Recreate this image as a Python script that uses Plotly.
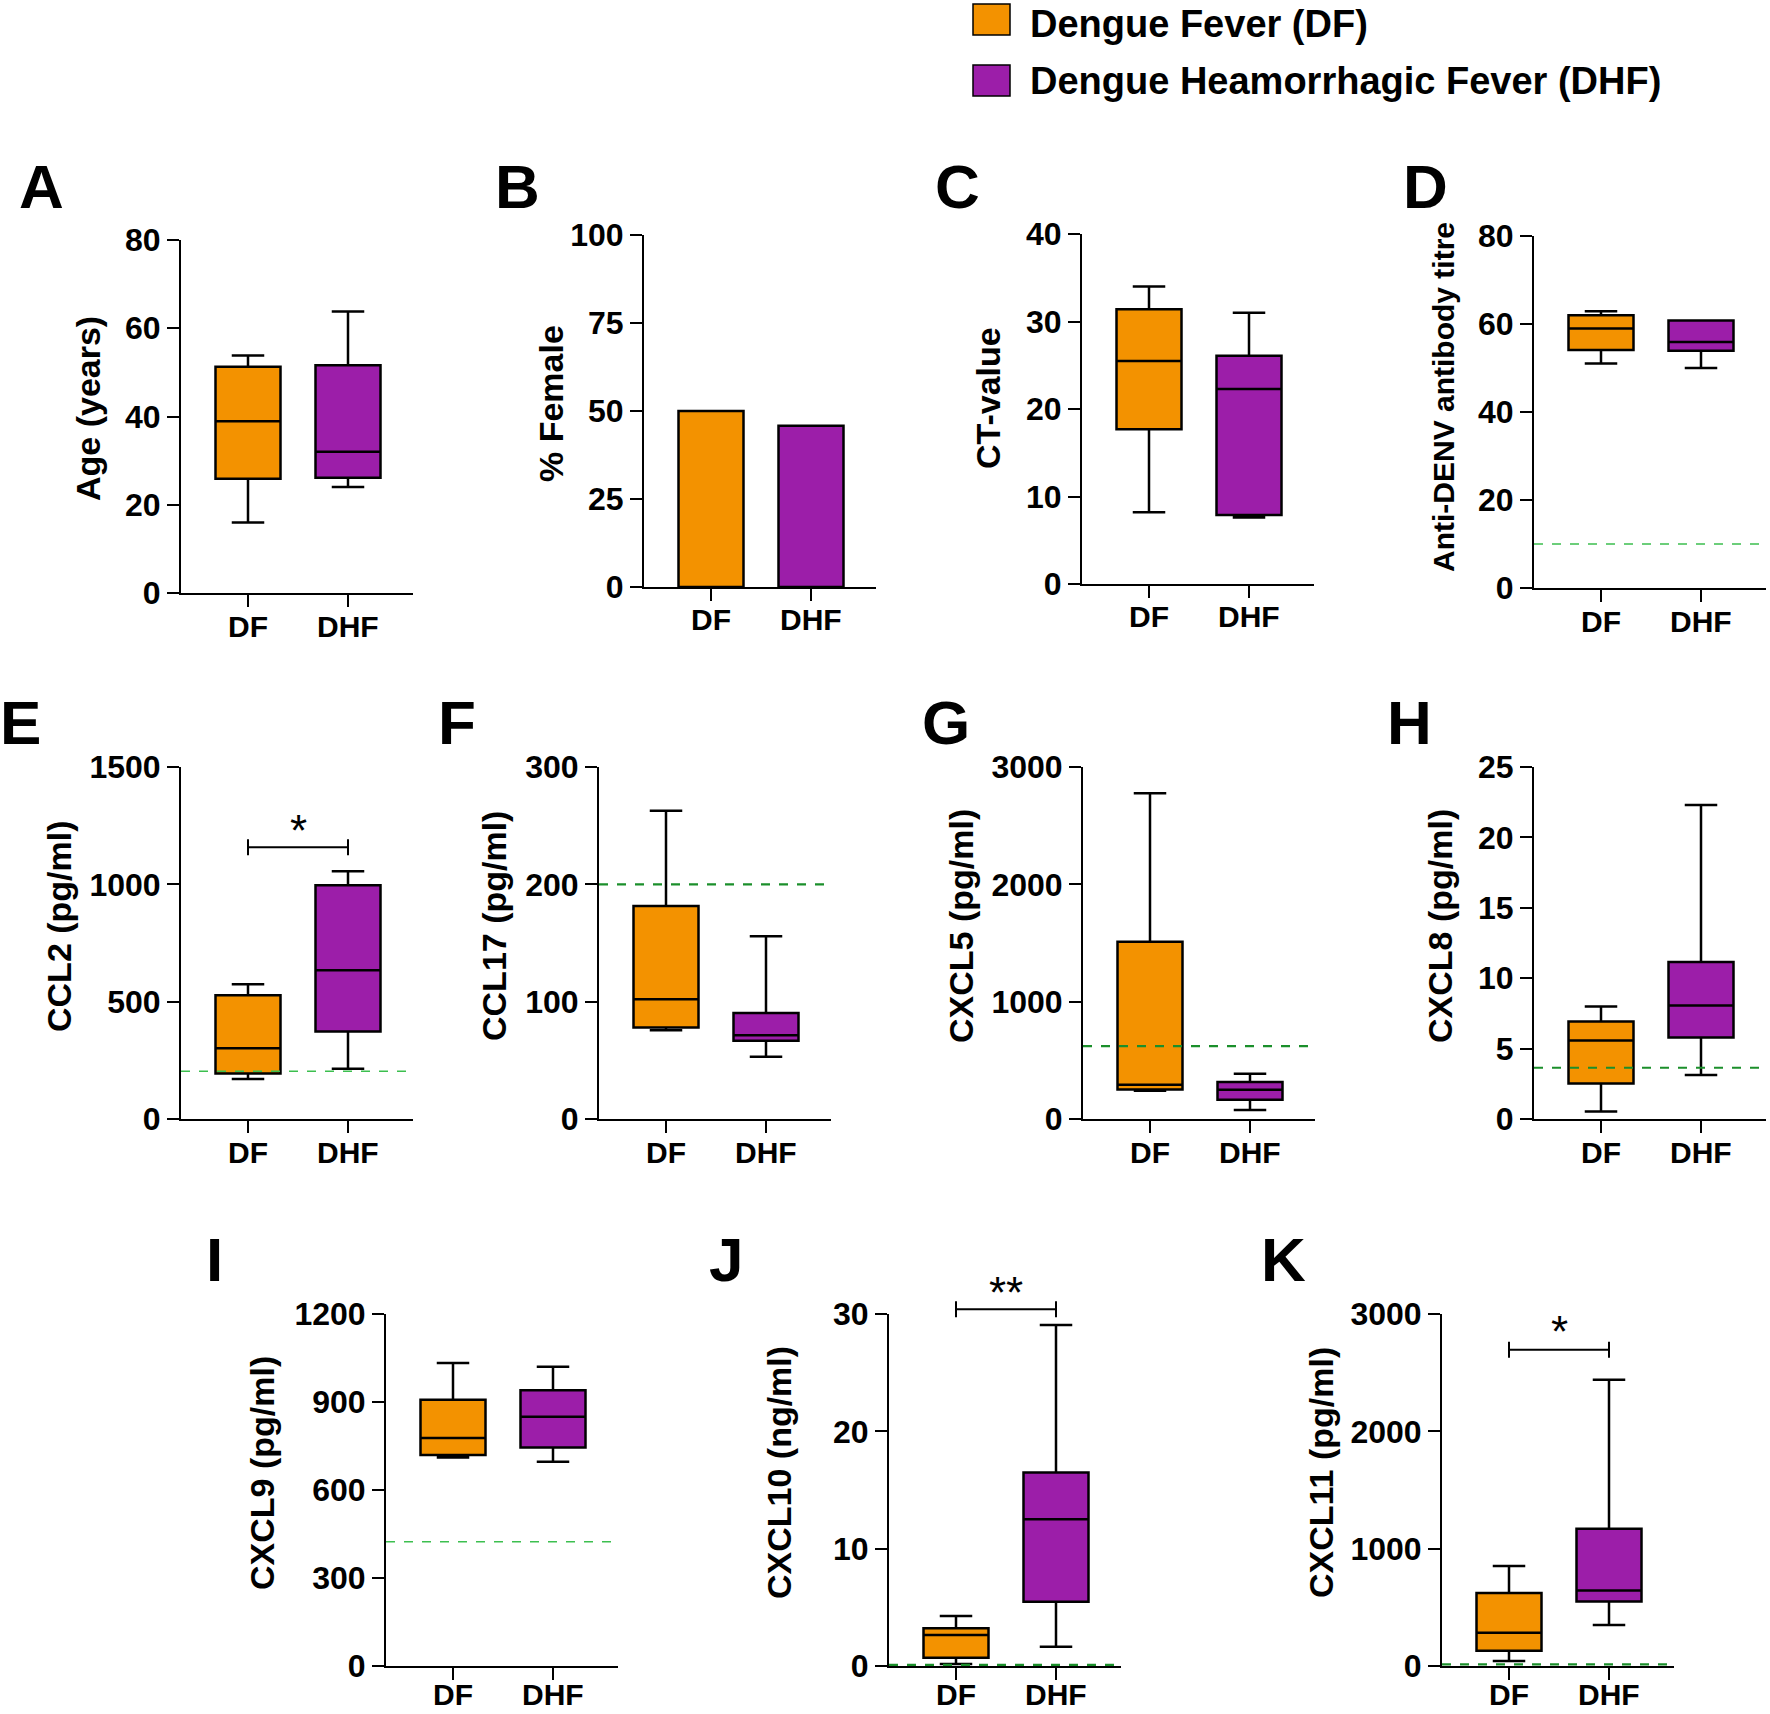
import plotly.graph_objects as go

W, H = 1770, 1714
ORANGE = '#F39200'
PURPLE = '#9C1EA9'
GREEN_DARK = '#1B8F2B'
GREEN_LIGHT = '#3CBF4F'

groups = ['DF', 'DHF']
legend_labels = ['Dengue Fever (DF)', 'Dengue Heamorrhagic Fever (DHF)']

# box stats: [lower whisker, Q1, median, Q3, upper whisker]
age_df = [16.0, 25.9, 38.9, 51.3, 53.8]
age_dhf = [24.0, 26.1, 32.0, 51.6, 63.8]
female_pct = [50.0, 45.8]
ct_df = [8.2, 17.7, 25.5, 31.4, 34.0]
ct_dhf = [7.6, 7.9, 22.3, 26.1, 31.0]
ab_df = [51.0, 54.1, 59.0, 62.0, 62.9]
ab_dhf = [50.0, 53.9, 55.9, 60.8, 60.8]
ccl2_df = [170, 194, 302, 527, 574]
ccl2_dhf = [214, 373, 634, 996, 1056]
ccl17_df = [75.7, 78, 102, 181.5, 262.8]
ccl17_dhf = [53, 66.6, 71.4, 90.4, 155.7]
cxcl5_df = [241, 252, 292, 1511, 2776]
cxcl5_dhf = [77, 164, 250, 315, 386]
cxcl8_df = [0.54, 2.53, 5.58, 6.92, 7.99]
cxcl8_dhf = [3.12, 5.79, 8.06, 11.15, 22.3]
cxcl9_df = [711, 719, 777, 908, 1033]
cxcl9_dhf = [696, 745, 850, 940, 1020]
cxcl10_df = [0.17, 0.71, 2.64, 3.21, 4.26]
cxcl10_dhf = [1.65, 5.48, 12.5, 16.5, 29.06]
cxcl11_df = [43, 131, 284, 623, 853]
cxcl11_dhf = [350, 549, 643, 1169, 2440]

# detection limits (green dashed lines)
lod_values = {'D': 10, 'E': 203, 'F': 200, 'G': 621, 'H': 3.64, 'I': 424, 'J': 0.1, 'K': 14}
lod_thin = {'D', 'E', 'I'}

# significance brackets: panel -> (bracket y, star y, label)
signif = {'E': (1158, 1229, '*'), 'J': (30.4, 31.8, '**'), 'K': (2696, 2849, '*')}

y_ticks = {
    'A': [0, 20, 40, 60, 80], 'B': [0, 25, 50, 75, 100], 'C': [0, 10, 20, 30, 40],
    'D': [0, 20, 40, 60, 80], 'E': [0, 500, 1000, 1500], 'F': [0, 100, 200, 300],
    'G': [0, 1000, 2000, 3000], 'H': [0, 5, 10, 15, 20, 25], 'I': [0, 300, 600, 900, 1200],
    'J': [0, 10, 20, 30], 'K': [0, 1000, 2000, 3000],
}
y_titles = {
    'A': 'Age (years)', 'B': '% Female', 'C': 'CT-value', 'D': 'Anti-DENV antibody titre',
    'E': 'CCL2 (pg/ml)', 'F': 'CCL17 (pg/ml)', 'G': 'CXCL5 (pg/ml)', 'H': 'CXCL8 (pg/ml)',
    'I': 'CXCL9 (pg/ml)', 'J': 'CXCL10 (ng/ml)', 'K': 'CXCL11 (pg/ml)',
}
box_data = {
    'A': (age_df, age_dhf), 'C': (ct_df, ct_dhf), 'D': (ab_df, ab_dhf),
    'E': (ccl2_df, ccl2_dhf), 'F': (ccl17_df, ccl17_dhf), 'G': (cxcl5_df, cxcl5_dhf),
    'H': (cxcl8_df, cxcl8_dhf), 'I': (cxcl9_df, cxcl9_dhf), 'J': (cxcl10_df, cxcl10_dhf),
    'K': (cxcl11_df, cxcl11_dhf),
}
letters = ['A', 'B', 'C', 'D', 'E', 'F', 'G', 'H', 'I', 'J', 'K']

# ---- layout geometry (pixels) ----
XR = [-0.67, 1.65]
UNIT = 100  # px per category step
# DF tick x, plot top, plot bottom
geom = {
    'A': (248, 240, 593), 'B': (711, 235, 587), 'C': (1149, 234, 584), 'D': (1601, 236, 588),
    'E': (248, 767, 1119), 'F': (666, 767, 1119), 'G': (1150, 767, 1119), 'H': (1601, 767, 1119),
    'I': (453, 1314, 1666), 'J': (956, 1314, 1666), 'K': (1509, 1314, 1666),
}
letter_pos = {
    'A': (41, 186), 'B': (517, 186), 'C': (957, 186), 'D': (1425, 186),
    'E': (20, 722), 'F': (457, 722), 'G': (946, 722), 'H': (1409, 722),
    'I': (214, 1259), 'J': (726, 1259), 'K': (1283, 1259),
}
title_pos = {
    'A': (88, 409), 'B': (551, 404), 'C': (988, 398), 'D': (1443, 397),
    'E': (59, 926), 'F': (494, 926), 'G': (961, 926), 'H': (1440, 926),
    'I': (262, 1473), 'J': (779, 1473), 'K': (1321, 1473),
}
title_size = {'D': 30}
XLABEL_GAP = 33  # px below x-axis line to centre of DF/DHF labels
XLABEL_GAP_BOTTOM = 28  # bottom row: keep labels inside the page

def px_x(x):
    return x / W

def px_y(y):
    return 1 - y / H

FONT = 'Liberation Sans, Arial'

fig = go.Figure()
layout = dict(width=W, height=H, margin=dict(l=0, r=0, t=0, b=0, autoexpand=False),
              paper_bgcolor='white', plot_bgcolor='white', showlegend=False,
              template='none')
shapes = []
annotations = []
panel_dom = {}

for i, L in enumerate(letters):
    n = '' if i == 0 else str(i + 1)
    xa, ya = 'x' + n, 'y' + n
    dfx, top, bot = geom[L]
    x0 = dfx + XR[0] * UNIT
    x1 = dfx + XR[1] * UNIT
    xdom = [px_x(x0), px_x(x1)]
    ydom = [px_y(bot), px_y(top)]
    ymax = y_ticks[L][-1]
    panel_dom[L] = (xdom, ydom, ymax)
    layout['xaxis' + n] = dict(
        domain=xdom, range=XR, anchor=ya, tickvals=[0, 1], showticklabels=False,
        showline=True, linecolor='black', linewidth=2, ticks='outside', ticklen=12,
        tickwidth=2, tickcolor='black', showgrid=False, zeroline=False, fixedrange=True,
        automargin=False)
    layout['yaxis' + n] = dict(
        domain=ydom, range=[0, ymax], anchor=xa, tickvals=y_ticks[L],
        showline=True, linecolor='black', linewidth=2, ticks='outside', ticklen=12,
        tickwidth=2, tickcolor='black', showgrid=False, zeroline=False, fixedrange=True,
        automargin=False,
        tickfont=dict(family=FONT, size=32, color='black', weight='bold'))

    # category labels under the axis (placed at the axis' tick positions)
    gap = XLABEL_GAP_BOTTOM if L in ('I', 'J', 'K') else XLABEL_GAP
    for k, g in enumerate(groups):
        gx = xdom[0] + (k - XR[0]) / (XR[1] - XR[0]) * (xdom[1] - xdom[0])
        annotations.append(dict(
            text=g, x=gx, y=px_y(bot + gap), xref='paper', yref='paper',
            showarrow=False, xanchor='center', yanchor='middle',
            font=dict(family=FONT, size=30, color='black', weight='bold')))

    if L == 'B':
        fig.add_trace(go.Bar(
            x=[0, 1], y=female_pct, width=0.65, xaxis=xa, yaxis=ya,
            marker=dict(color=[ORANGE, PURPLE], line=dict(color='black', width=2.5)),
            hoverinfo='skip'))
    else:
        for k, (stats, col) in enumerate(zip(box_data[L], [ORANGE, PURPLE])):
            fig.add_trace(go.Box(
                x=[k], lowerfence=[stats[0]], q1=[stats[1]], median=[stats[2]],
                q3=[stats[3]], upperfence=[stats[4]], width=0.65, whiskerwidth=0.5,
                fillcolor=col, line=dict(color='black', width=2.5), boxpoints=False,
                xaxis=xa, yaxis=ya, hoverinfo='skip'))

    if L in lod_values:
        thin = L in lod_thin
        shapes.append(dict(
            type='line', xref=xa + ' domain', yref=ya, x0=0, x1=1,
            y0=lod_values[L], y1=lod_values[L], layer='above',
            line=dict(color=GREEN_LIGHT if thin else GREEN_DARK,
                      width=1.5 if thin else 2.2, dash='dash')))

    # panel letter
    lx, ly = letter_pos[L]
    annotations.append(dict(
        text=L, x=px_x(lx), y=px_y(ly), xref='paper', yref='paper', showarrow=False,
        xanchor='center', yanchor='middle',
        font=dict(family=FONT, size=62, color='black', weight='bold')))
    # y-axis title
    tx, ty = title_pos[L]
    annotations.append(dict(
        text=y_titles[L], x=px_x(tx), y=px_y(ty), xref='paper', yref='paper',
        showarrow=False, textangle=-90, xanchor='center', yanchor='middle',
        font=dict(family=FONT, size=title_size.get(L, 34), color='black', weight='bold')))

# significance brackets
def data_to_paper(L, xv, yv):
    xdom, ydom, ymax = panel_dom[L]
    px = xdom[0] + (xv - XR[0]) / (XR[1] - XR[0]) * (xdom[1] - xdom[0])
    py = ydom[0] + yv / ymax * (ydom[1] - ydom[0])
    return px, py

tick_half = 8 / H
for L, (by, sy, lab) in signif.items():
    xa0, yb = data_to_paper(L, 0, by)
    xa1, _ = data_to_paper(L, 1, by)
    lw = dict(color='black', width=2)
    shapes.append(dict(type='line', xref='paper', yref='paper', x0=xa0, x1=xa1, y0=yb, y1=yb, line=lw))
    for xx in (xa0, xa1):
        shapes.append(dict(type='line', xref='paper', yref='paper', x0=xx, x1=xx,
                           y0=yb - tick_half, y1=yb + tick_half, line=lw))
    xs, ys = data_to_paper(L, 0.5, sy)
    annotations.append(dict(
        text=lab, x=xs, y=ys, xref='paper', yref='paper', showarrow=False,
        xanchor='center', yanchor='middle',
        font=dict(family=FONT, size=44, color='black')))

# legend (squares in px; text centre in px)
leg_sq = [(973, 4, 1010, 35), (973, 65, 1010, 96)]
leg_text_y = [24, 81]
for (a, b, c, d), ty, col, lab in zip(leg_sq, leg_text_y, [ORANGE, PURPLE], legend_labels):
    shapes.append(dict(type='rect', xref='paper', yref='paper',
                       x0=px_x(a), x1=px_x(c), y0=px_y(d), y1=px_y(b),
                       fillcolor=col, line=dict(color='black', width=1.5)))
    annotations.append(dict(
        text=lab, x=px_x(1028), y=px_y(ty), xref='paper', yref='paper',
        showarrow=False, xanchor='left', yanchor='middle',
        font=dict(family=FONT, size=38, color='black', weight='bold')))

layout['shapes'] = shapes
layout['annotations'] = annotations
fig.update_layout(**layout)

fig.write_html("out.html", post_script="document.body.style.margin='0';",
               config={'displayModeBar': False})
